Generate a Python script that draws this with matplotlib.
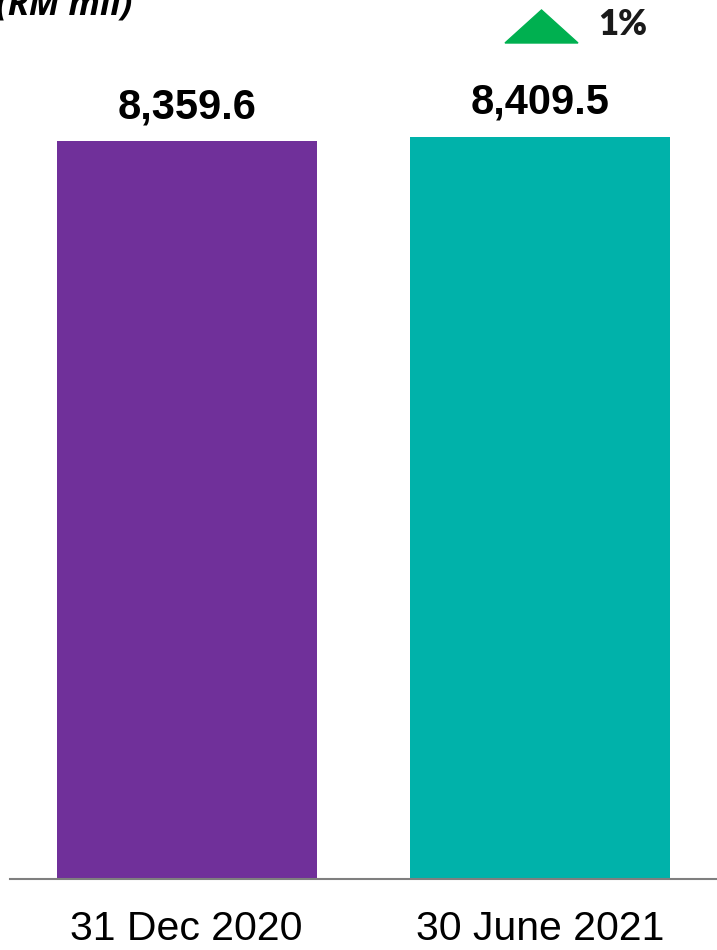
import matplotlib
matplotlib.use("Agg")
import matplotlib.pyplot as plt
from matplotlib.patches import Polygon

categories = ["31 Dec 2020", "30 June 2021"]
values = [8359.6, 8409.5]
value_labels = ["8,359.6", "8,409.5"]
colors = ["#70309A", "#00B2AA"]
change_label = "1%"
unit_label = "(RM mil)"

W, H = 717, 950
fig = plt.figure(figsize=(W / 100, H / 100), dpi=100)
ax = fig.add_axes([10 / W, 1 - 879 / H, 1 - 10 / W, 879 / H])

x = list(range(len(categories)))
ax.bar(x, values, width=0.735, color=colors)
ax.set_xlim(-0.5, 1.5)
ax.set_ylim(0, 9957)

for xi, v, lab in zip(x, values, value_labels):
    ax.annotate(lab, (xi, v), xytext=(0, 16.5), textcoords="offset points",
                ha="center", va="baseline", fontsize=30, fontweight="bold",
                family="Liberation Sans")

for s in ["left", "right", "top"]:
    ax.spines[s].set_visible(False)
ax.spines["bottom"].set_color("#7f7f7f")
ax.spines["bottom"].set_linewidth(1.5)
ax.set_yticks([])
ax.set_xticks(x)
ax.set_xticklabels(categories, fontsize=29.5, family="Liberation Sans")
ax.tick_params(axis="x", length=0, pad=22.5)

# unit label (partially cut off at the left in the original)
fig.text(133 / W, 1 - 14 / H, unit_label, ha="right", va="baseline",
         fontsize=25, fontweight="bold", style="italic", family="Open Sans")

# green up triangle and change label
tri = Polygon([[505 / W, 1 - 43 / H], [578 / W, 1 - 43 / H], [541.5 / W, 1 - 10 / H]],
              closed=True, transform=fig.transFigure, color="#00B050")
fig.patches.append(tri)
fig.text(598 / W, 1 - 35 / H, change_label, ha="left", va="baseline",
         fontsize=25, fontweight="heavy", family="Lato", color="#1a1a1a")

fig.savefig("out.png", dpi=100)
